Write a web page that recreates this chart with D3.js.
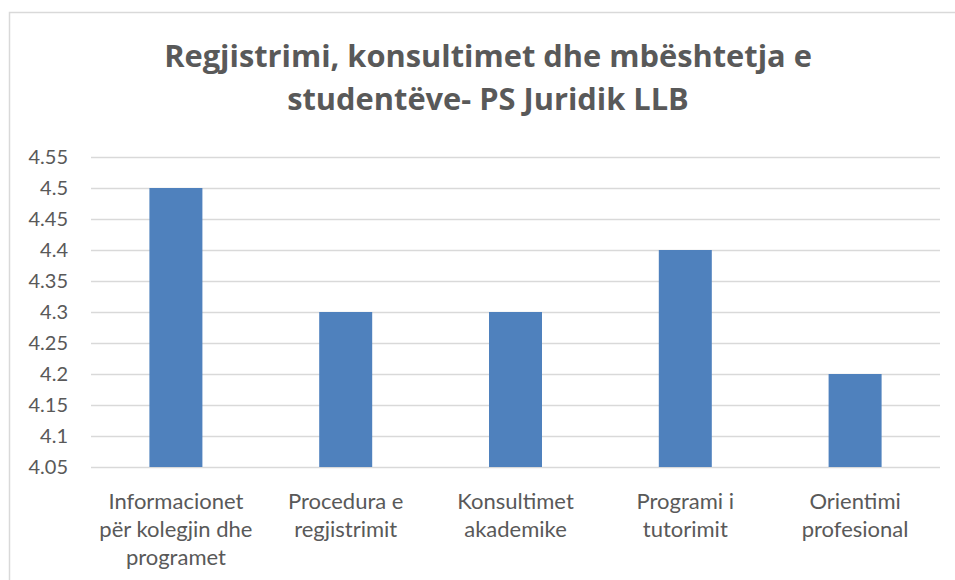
<!DOCTYPE html>
<html><head><meta charset="utf-8">
<script src="https://cdn.jsdelivr.net/npm/d3@7"></script>
<style>body{margin:0;background:#fff;} svg{display:block;}</style>
</head><body>
<svg id="c" width="955" height="580"></svg>
<script>
const categories = [
  ["Informacionet", "për kolegjin dhe", "programet"],
  ["Procedura e", "regjistrimit"],
  ["Konsultimet", "akademike"],
  ["Programi i", "tutorimit"],
  ["Orientimi", "profesional"]
];
const values = [4.5, 4.3, 4.3, 4.4, 4.2];
const yTicks = [4.05, 4.1, 4.15, 4.2, 4.25, 4.3, 4.35, 4.4, 4.45, 4.5, 4.55];
const titleLines = ["Regjistrimi, konsultimet dhe mbështetja e", "studentëve- PS Juridik LLB"];

const svg = d3.select("#c");
const font = "Lato, 'Open Sans', sans-serif";
const textCol = "#595959";

svg.append("rect").attr("x", 9.5).attr("y", 12.5).attr("width", 960).attr("height", 600)
  .attr("fill", "#fff").attr("stroke", "#d9d9d9").attr("stroke-width", 1.5);

const m = {left: 91, right: 940, top: 157, bottom: 467};
const x = d3.scaleBand().domain(d3.range(categories.length)).range([m.left, m.right]).paddingInner(0).paddingOuter(0);
const y = d3.scaleLinear().domain([4.05, 4.55]).range([m.bottom, m.top]);

const yAxis = d3.axisLeft(y).tickValues(yTicks).tickSize(-(m.right - m.left)).tickPadding(23)
  .tickFormat(d => d3.format("")(+d.toFixed(2)));
const gy = svg.append("g").attr("transform", `translate(${m.left},0)`).call(yAxis);
gy.select(".domain").remove();
gy.selectAll(".tick line").attr("stroke", "#d9d9d9").attr("stroke-width", 1.3);
gy.selectAll(".tick text").attr("fill", textCol).style("font-family", font).style("font-size", "20px");

const bw = 53;
svg.append("g").selectAll("rect").data(values).join("rect")
  .attr("x", (d, i) => x(i) + x.bandwidth() / 2 - bw / 2)
  .attr("width", bw)
  .attr("y", d => y(d))
  .attr("height", d => y(4.05) - y(d))
  .attr("fill", "#4f81bd");

const gx = svg.append("g");
categories.forEach((lines, i) => {
  const t = gx.append("text").attr("text-anchor", "middle").attr("fill", textCol)
    .style("font-family", font).style("font-size", "22px");
  lines.forEach((ln, j) => {
    t.append("tspan").attr("x", x(i) + x.bandwidth() / 2).attr("y", 509 + j * 28).text(ln);
  });
});

const tg = svg.append("g");
titleLines.forEach((ln, j) => {
  tg.append("text").attr("x", 488).attr("y", 67 + j * 43).attr("text-anchor", "middle")
    .attr("fill", textCol).style("font-family", "'Open Sans', sans-serif").style("font-weight", "bold").style("font-size", "30.8px").text(ln);
});
</script>
</body></html>
